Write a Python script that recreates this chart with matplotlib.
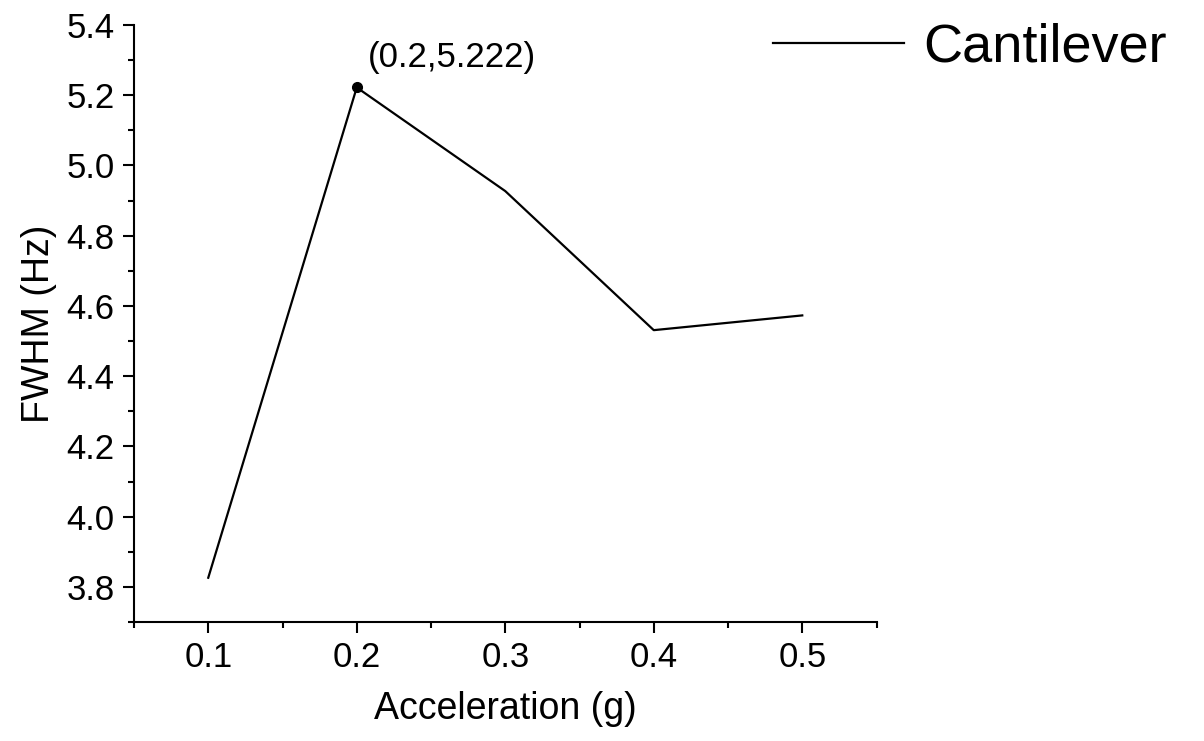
import matplotlib
matplotlib.use("Agg")
import matplotlib.pyplot as plt
from matplotlib.ticker import MultipleLocator

plt.rcParams['font.family'] = ['Liberation Sans', 'DejaVu Sans']

accel = [0.1, 0.2, 0.3, 0.4, 0.5]
fwhm = [3.826, 5.222, 4.927, 4.531, 4.573]
peak_x, peak_y = 0.2, 5.222

fig = plt.figure(figsize=(12.04, 7.41), dpi=100)
ax = fig.add_axes([0.1113, 0.1606, 0.6167, 0.8057])

ax.plot(accel, fwhm, color='black', lw=1.6, label='Cantilever')
ax.plot([peak_x], [peak_y], 'o', color='black', ms=7)
ax.annotate(f'({peak_x},{peak_y})', (peak_x, peak_y), xytext=(8, 15),
            textcoords='offset points', fontsize=25, va='baseline', ha='left')

ax.set_xlim(0.05, 0.55)
ax.set_ylim(3.7, 5.4)
ax.xaxis.set_minor_locator(MultipleLocator(0.05))
ax.yaxis.set_minor_locator(MultipleLocator(0.1))
ax.set_xticks([0.1, 0.2, 0.3, 0.4, 0.5])
ax.set_yticks([3.8, 4.0, 4.2, 4.4, 4.6, 4.8, 5.0, 5.2, 5.4])

for side in ['top', 'right']:
    ax.spines[side].set_visible(False)
for side in ['left', 'bottom']:
    ax.spines[side].set_linewidth(1.5)

ax.tick_params(which='major', direction='out', length=8, width=1.5, labelsize=25)
ax.tick_params(which='minor', direction='out', length=4.3, width=1.5)
ax.tick_params(axis='x', which='major', pad=6)
ax.tick_params(axis='y', which='major', pad=6)

ax.set_xlabel('Acceleration (g)', fontsize=27, labelpad=12)
ax.set_ylabel('FWHM (Hz)', fontsize=27, labelpad=7)

ax.legend(loc='center left', bbox_to_anchor=(773 / 1204, 1 - 48 / 741),
          bbox_transform=fig.transFigure, frameon=False, fontsize=39,
          handlelength=2.42, handletextpad=0.35, borderpad=0, borderaxespad=0)

fig.savefig('out.png', dpi=100)
